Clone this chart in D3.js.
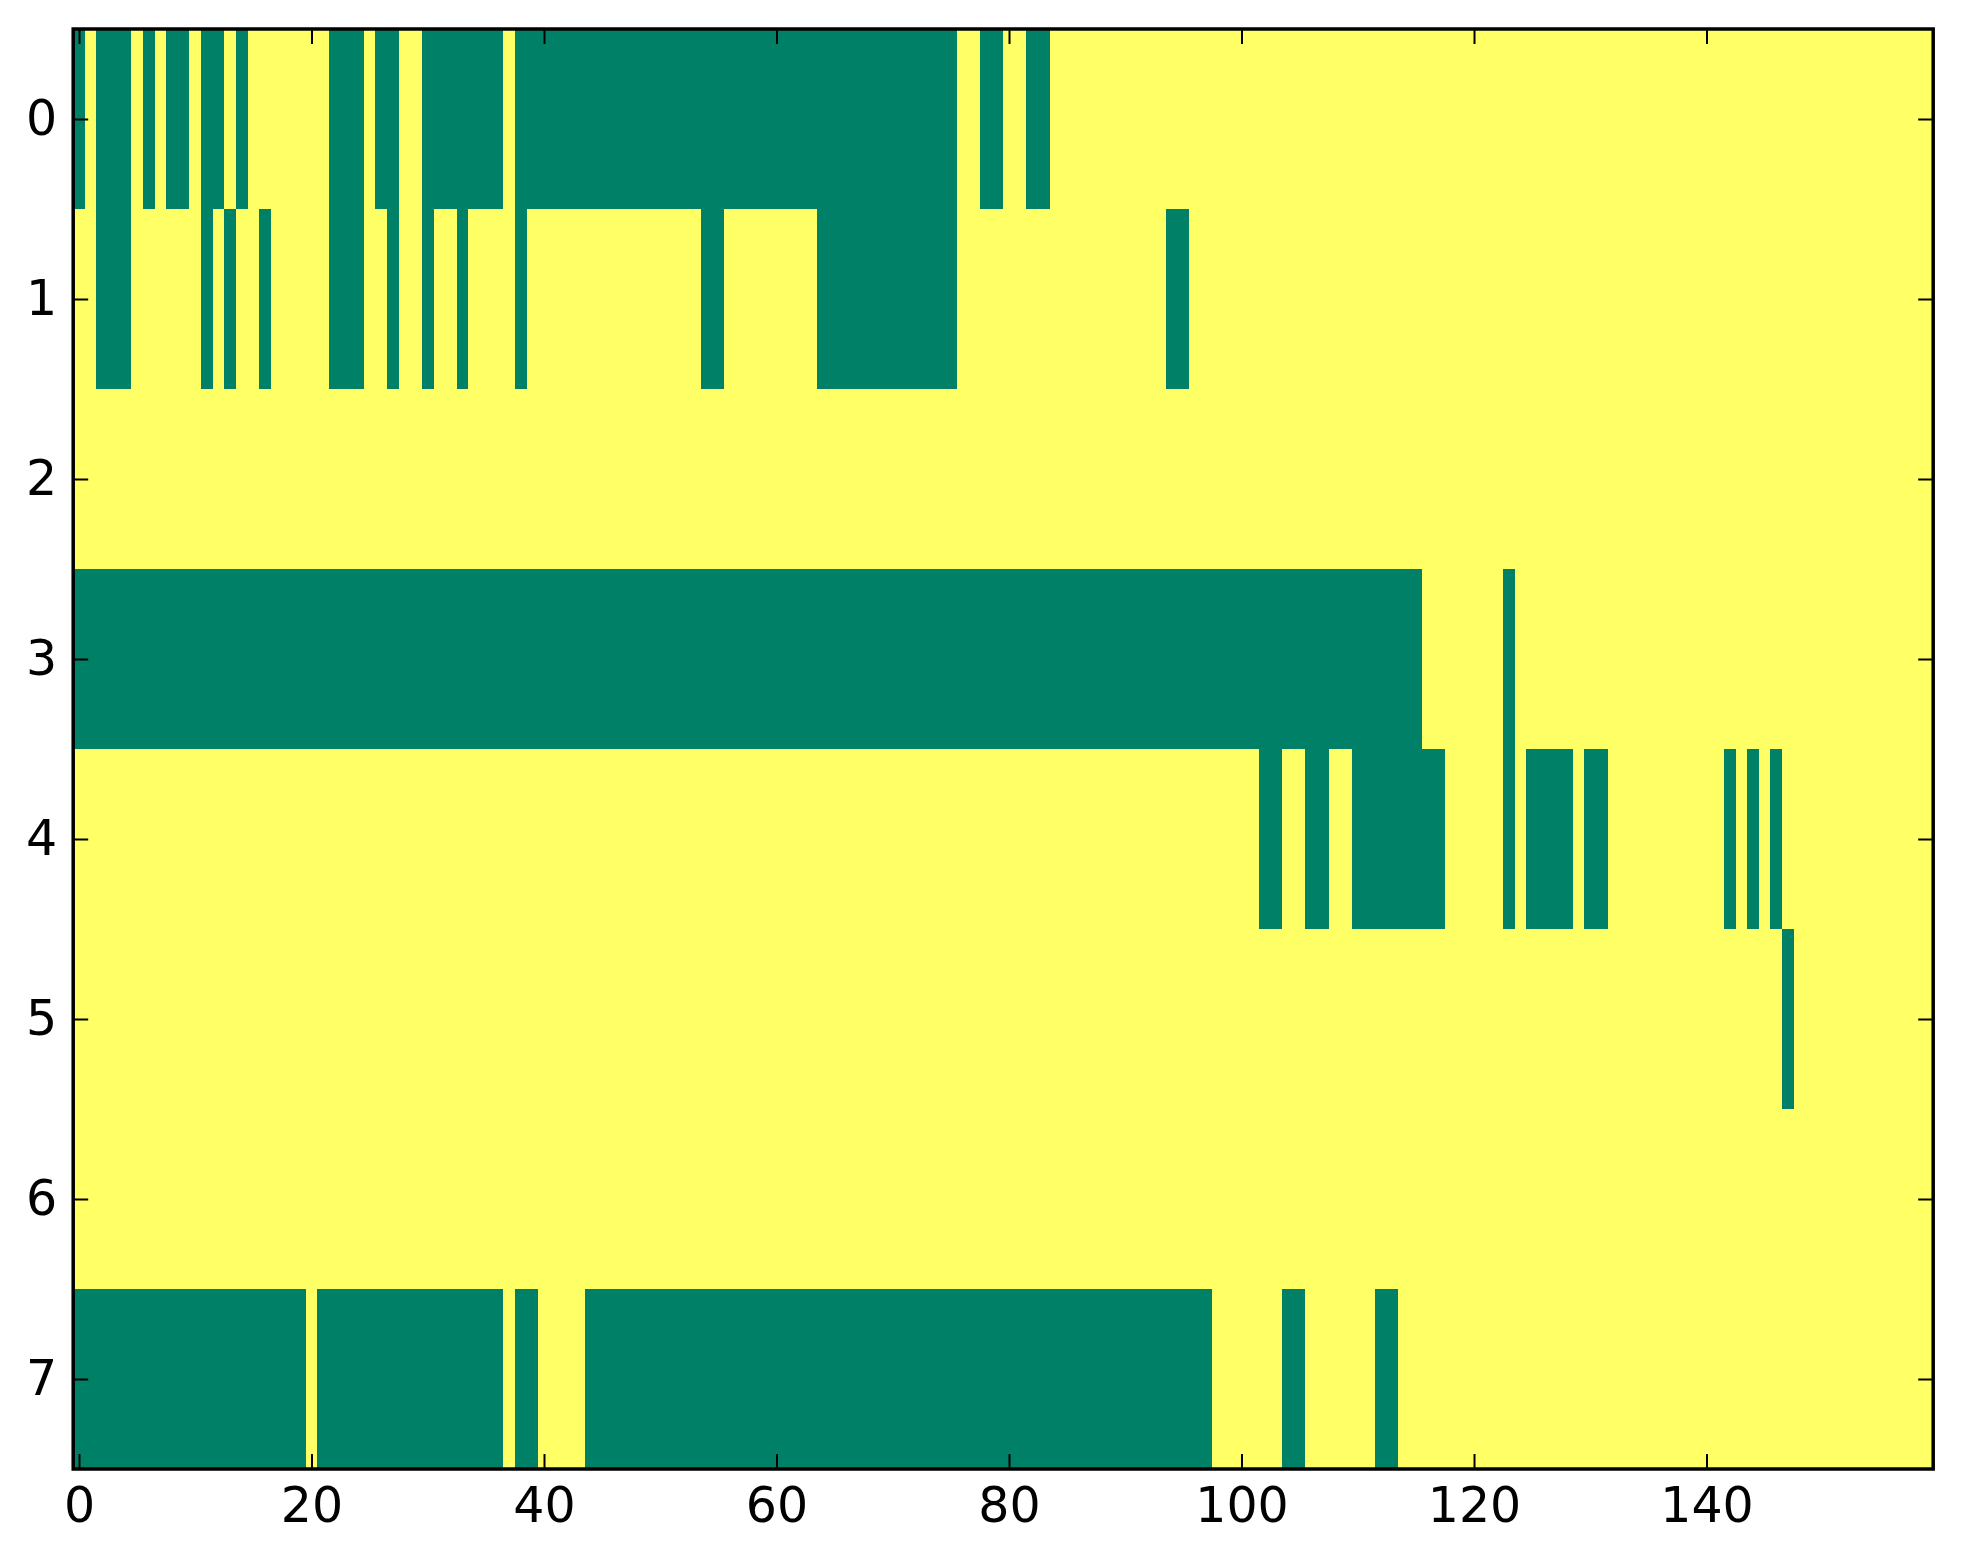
<!DOCTYPE html>
<html>
<head>
<meta charset="utf-8">
<script src="https://cdn.jsdelivr.net/npm/d3@7"></script>
<style>
  body { margin: 0; background: #ffffff; }
</style>
</head>
<body>
<svg id="heatSvg" width="1963" height="1564"></svg>
<script>

// one string per row, 160 columns, written in blocks of 10. 1 = green cell, 0 = yellow cell
var row0 = "1011101011 0110100000 0011101100 1111111011 1111111111 1111111111 1111111111 1111110011 0011000000 0000000000 0000000000 0000000000 0000000000 0000000000 0000000000 0000000000";
var row1 = "0011100000 0101001000 0011100100 1001000010 0000000000 0000110000 0000111111 1111110000 0000000000 0000110000 0000000000 0000000000 0000000000 0000000000 0000000000 0000000000";
var row2 = "0000000000 0000000000 0000000000 0000000000 0000000000 0000000000 0000000000 0000000000 0000000000 0000000000 0000000000 0000000000 0000000000 0000000000 0000000000 0000000000";
var row3 = "1111111111 1111111111 1111111111 1111111111 1111111111 1111111111 1111111111 1111111111 1111111111 1111111111 1111111111 1111110000 0001000000 0000000000 0000000000 0000000000";
var row4 = "0000000000 0000000000 0000000000 0000000000 0000000000 0000000000 0000000000 0000000000 0000000000 0000000000 0011001100 1111111100 0001011110 1100000000 0010101000 0000000000";
var row5 = "0000000000 0000000000 0000000000 0000000000 0000000000 0000000000 0000000000 0000000000 0000000000 0000000000 0000000000 0000000000 0000000000 0000000000 0000000100 0000000000";
var row6 = "0000000000 0000000000 0000000000 0000000000 0000000000 0000000000 0000000000 0000000000 0000000000 0000000000 0000000000 0000000000 0000000000 0000000000 0000000000 0000000000";
var row7 = "1111111111 1111111111 0111111111 1111111011 0000111111 1111111111 1111111111 1111111111 1111111111 1111111100 0000110000 0011000000 0000000000 0000000000 0000000000 0000000000";

var rowStrings = [row0, row1, row2, row3, row4, row5, row6, row7];

// tick labels
var xTicks = [0, 20, 40, 60, 80, 100, 120, 140];
var yTicks = [0, 1, 2, 3, 4, 5, 6, 7];

var nCols = 160;
var nRows = rowStrings.length;

// turn the strings into cells
var cells = [];
rowStrings.forEach(function(s, r) {
	var bits = s.replace(/ /g, "");
	for (var c = 0; c < bits.length; c++) {
		cells.push({row: r, col: c, value: +bits[c]});
	}
});

var svg = d3.select("#heatSvg");

// (window.top is read only, so no plain "top" here)
var plotLeft = 73.2, plotRight = 1933.2, plotTop = 29, plotBottom = 1469;
var tickLen = 15;
var fontSize = "49px";

var xScale = d3.scaleLinear()
	.domain([-0.5, nCols - 0.5])
	.range([plotLeft, plotRight]);
var yScale = d3.scaleLinear()
	.domain([-0.5, nRows - 0.5])
	.range([plotTop, plotBottom]);

// summer colormap ends
var color = d3.scaleOrdinal()
	.domain([1, 0])
	.range(["#008066", "#ffff66"]);

svg.append("rect")
	.attr("width", 1963)
	.attr("height", 1564)
	.attr("fill", "#ffffff");

// the image
svg.append("g")
	.selectAll("rect")
	.data(cells)
	.enter()
	.append("rect")
	.attr("x", function(d) { return xScale(d.col - 0.5); })
	.attr("y", function(d) { return yScale(d.row - 0.5); })
	.attr("width", function(d) { return xScale(d.col + 0.5) - xScale(d.col - 0.5); })
	.attr("height", function(d) { return yScale(d.row + 0.5) - yScale(d.row - 0.5); })
	.attr("fill", function(d) { return color(d.value); })
	.attr("shape-rendering", "crispEdges");

// axes, ticks pointing inwards on all four sides
var xBottom = svg.append("g")
	.attr("transform", "translate(0," + plotBottom + ")")
	.call(d3.axisBottom(xScale).tickValues(xTicks).tickFormat(d3.format("d"))
		.tickSizeInner(-tickLen).tickSizeOuter(0).tickPadding(18));

var xTop = svg.append("g")
	.attr("transform", "translate(0," + plotTop + ")")
	.call(d3.axisTop(xScale).tickValues(xTicks).tickFormat("")
		.tickSizeInner(-tickLen).tickSizeOuter(0));

var yLeft = svg.append("g")
	.attr("transform", "translate(" + plotLeft + ",0)")
	.call(d3.axisLeft(yScale).tickValues(yTicks).tickFormat(d3.format("d"))
		.tickSizeInner(-tickLen).tickSizeOuter(0).tickPadding(16));

var yRight = svg.append("g")
	.attr("transform", "translate(" + plotRight + ",0)")
	.call(d3.axisRight(yScale).tickValues(yTicks).tickFormat("")
		.tickSizeInner(-tickLen).tickSizeOuter(0));

[xBottom, xTop, yLeft, yRight].forEach(function(a) {
	a.select(".domain").remove();
	a.selectAll(".tick line")
		.attr("stroke", "#000000")
		.attr("stroke-width", 2);
	a.selectAll("text")
		.attr("fill", "#000000")
		.style("font-family", "'DejaVu Sans'")
		.style("font-size", fontSize);
});

// frame
svg.append("rect")
	.attr("x", plotLeft)
	.attr("y", plotTop)
	.attr("width", plotRight - plotLeft)
	.attr("height", plotBottom - plotTop)
	.attr("fill", "none")
	.attr("stroke", "#000000")
	.attr("stroke-width", 3.5);

</script>
</body>
</html>
